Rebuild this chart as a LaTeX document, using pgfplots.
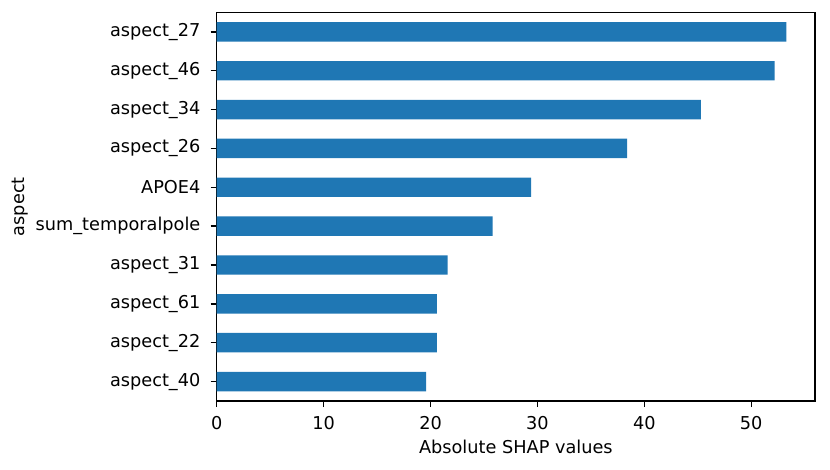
\documentclass[border=0pt]{standalone}
\usepackage{pgfplots}
\pgfplotsset{compat=1.18}
\usepackage{fontspec}
\setmainfont{DejaVu Sans}
\definecolor{barblue}{HTML}{1F77B4}

\begin{document}
\begin{tikzpicture}
\fontsize{13.3}{16}\selectfont
\begin{axis}[
    scale only axis,
    width=449.25pt,
    height=291.75pt,
    xbar,
    bar width=0.5,
    xmin=0, xmax=55.97,
    ymin=-0.5, ymax=9.5,
    xtick={0,10,20,30,40,50},
    ytick={0,...,9},
    yticklabels={aspect\_40,aspect\_22,aspect\_61,aspect\_31,sum\_temporalpole,APOE4,aspect\_26,aspect\_34,aspect\_46,aspect\_27},
    tick align=outside,
    major tick length=4.6pt,
    xtick style={black, line width=0.8pt},
    ytick style={black, line width=1pt},
    axis line style={black, line width=0.8pt},
    xtick pos=bottom, ytick pos=left,
    /pgf/number format/assume math mode=true,
    tick label style={font=\fontsize{13.3}{16}\selectfont},
    xticklabel style={inner sep=0pt, yshift=-7pt},
    yticklabel style={inner sep=0pt, xshift=-7.5pt},
    xlabel={Absolute SHAP values},
    ylabel={aspect},
    label style={font=\fontsize{13.3}{16}\selectfont},
    xlabel style={at={(axis description cs:0.5,-0.117)}, anchor=center},
    ylabel style={at={(axis description cs:-0.329,0.5)}, anchor=center},
]
\addplot[fill=barblue, draw=none] coordinates {
    (19.6,0) (20.6,1) (20.6,2) (21.6,3) (25.8,4)
    (29.4,5) (38.4,6) (45.3,7) (52.2,8) (53.3,9)
};
\end{axis}
\path[use as bounding box] (-162.75pt,-51.4pt) rectangle (460.5pt,301.1pt);
\end{tikzpicture}
\end{document}
